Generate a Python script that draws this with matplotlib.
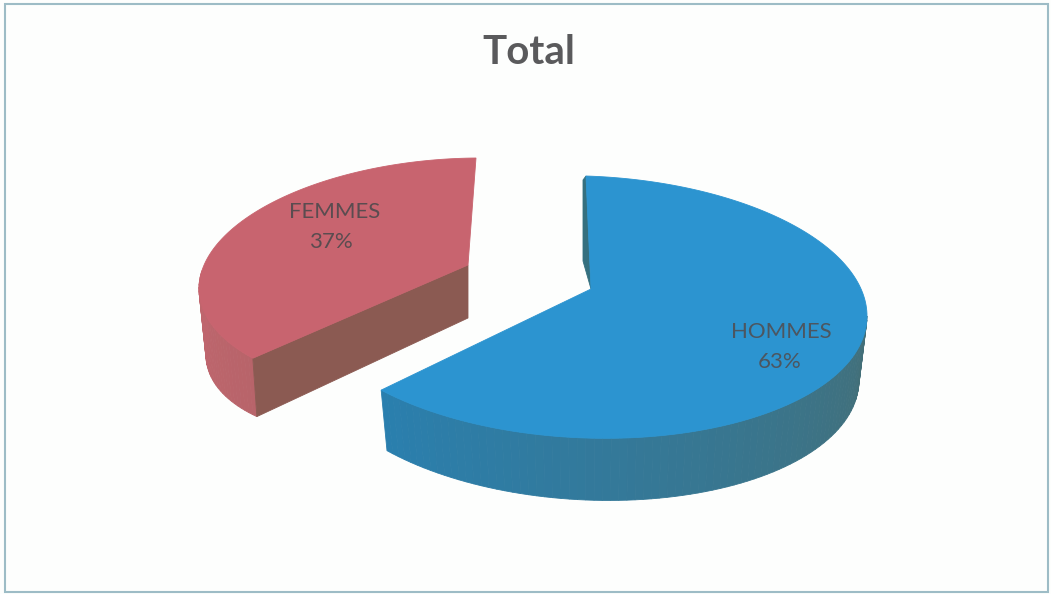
import numpy as np
import matplotlib
matplotlib.use('Agg')
import matplotlib.pyplot as plt
from matplotlib.patches import Polygon, Rectangle
from matplotlib.colors import to_rgb

title = 'Total'
labels = ['HOMMES', 'FEMMES']
shares = [63, 37]

split = shares[0] / sum(shares) * 2 * np.pi


def rim(th, cx, cy, rx, ry, sx=0, t=0):
    # tilted ellipse seen from above, th clockwise from top
    return np.column_stack([cx + rx * np.sin(th) + sx * np.cos(th),
                            cy - ry * np.cos(th) + t * np.sin(th)])


def side(ax, th, top, bottom, c1, c2):
    # side wall as thin strips so the shading runs along it
    c1, c2 = np.array(to_rgb(c1)), np.array(to_rgb(c2))
    a = rim(th, **top)
    b = rim(th, **bottom)
    for i in range(len(th) - 1):
        f = i / (len(th) - 2)
        ax.add_patch(Polygon([a[i], a[i + 1], b[i + 1], b[i]], closed=True,
                             fc=c1 + (c2 - c1) * f, ec=c1 + (c2 - c1) * f, lw=0.6))


fig = plt.figure(figsize=(10.51, 5.94), dpi=100, facecolor='#fdfefd')
ax = fig.add_axes([0, 0, 1, 1])
ax.set_xlim(0, 1051)
ax.set_ylim(594, 0)
ax.axis('off')

ax.add_patch(Rectangle((5, 4), 1043, 588, fc='none', ec='#9dbcc6', lw=1.5))
ax.text(529, 53, title, ha='center', va='center', fontsize=29, fontweight='bold',
        family='Lato', color='#5a5a5c')

# FEMMES slice
f_top = dict(cx=453, cy=276, rx=253, ry=118, sx=23, t=-2)
f_bot = dict(cx=449, cy=324, rx=242, ry=114, sx=23, t=-20)
f_apex = np.array([468, 265])
f_drop = np.array([0, 53])
th = np.linspace(split, 2 * np.pi, 120)
side(ax, np.linspace(split, 1.52 * np.pi, 30), f_top, f_bot, '#b8646a', '#c0666e')
ax.add_patch(Polygon([rim(np.array([split]), **f_top)[0], f_apex, f_apex + f_drop,
                      rim(np.array([split]), **f_bot)[0]], closed=True,
                     fc='#8b5a52', ec='#8b5a52', lw=0.6))
ax.add_patch(Polygon(np.vstack([f_apex, rim(th, **f_top)]), closed=True,
                     fc='#c8646f', ec='#c8646f', lw=0.6))

# HOMMES slice
h_top = dict(cx=586, cy=307, rx=281, ry=131, t=9)
h_bot = dict(cx=586, cy=369, rx=273, ry=131, t=11)
h_apex = np.array([591, 289])
th = np.linspace(0, split, 200)
side(ax, np.linspace(split, 0.5 * np.pi, 80), h_top, h_bot, '#2a7fae', '#436f78')
start = rim(np.array([0.0]), **h_top)[0]
ax.add_patch(Polygon([start, h_apex, h_apex + np.array([-8, -28]), start + np.array([-3, 4])],
                     closed=True, fc='#35707f', ec='#35707f', lw=0.6))
ax.add_patch(Polygon(np.vstack([h_apex, rim(th, **h_top)]), closed=True,
                     fc='#2c94d0', ec='#2c94d0', lw=0.6))

ax.text(781, 332, labels[0], ha='center', va='center', fontsize=16, family='Lato', color='#4c5660')
ax.text(780, 362, '%d%%' % shares[0], ha='center', va='center', fontsize=16, family='Lato', color='#4c5660')
ax.text(335, 212, labels[1], ha='center', va='center', fontsize=16, family='Lato', color='#5a4c50')
ax.text(331, 242, '%d%%' % shares[1], ha='center', va='center', fontsize=16, family='Lato', color='#5a4c50')

plt.savefig('out.png', dpi=100, facecolor=fig.get_facecolor())
